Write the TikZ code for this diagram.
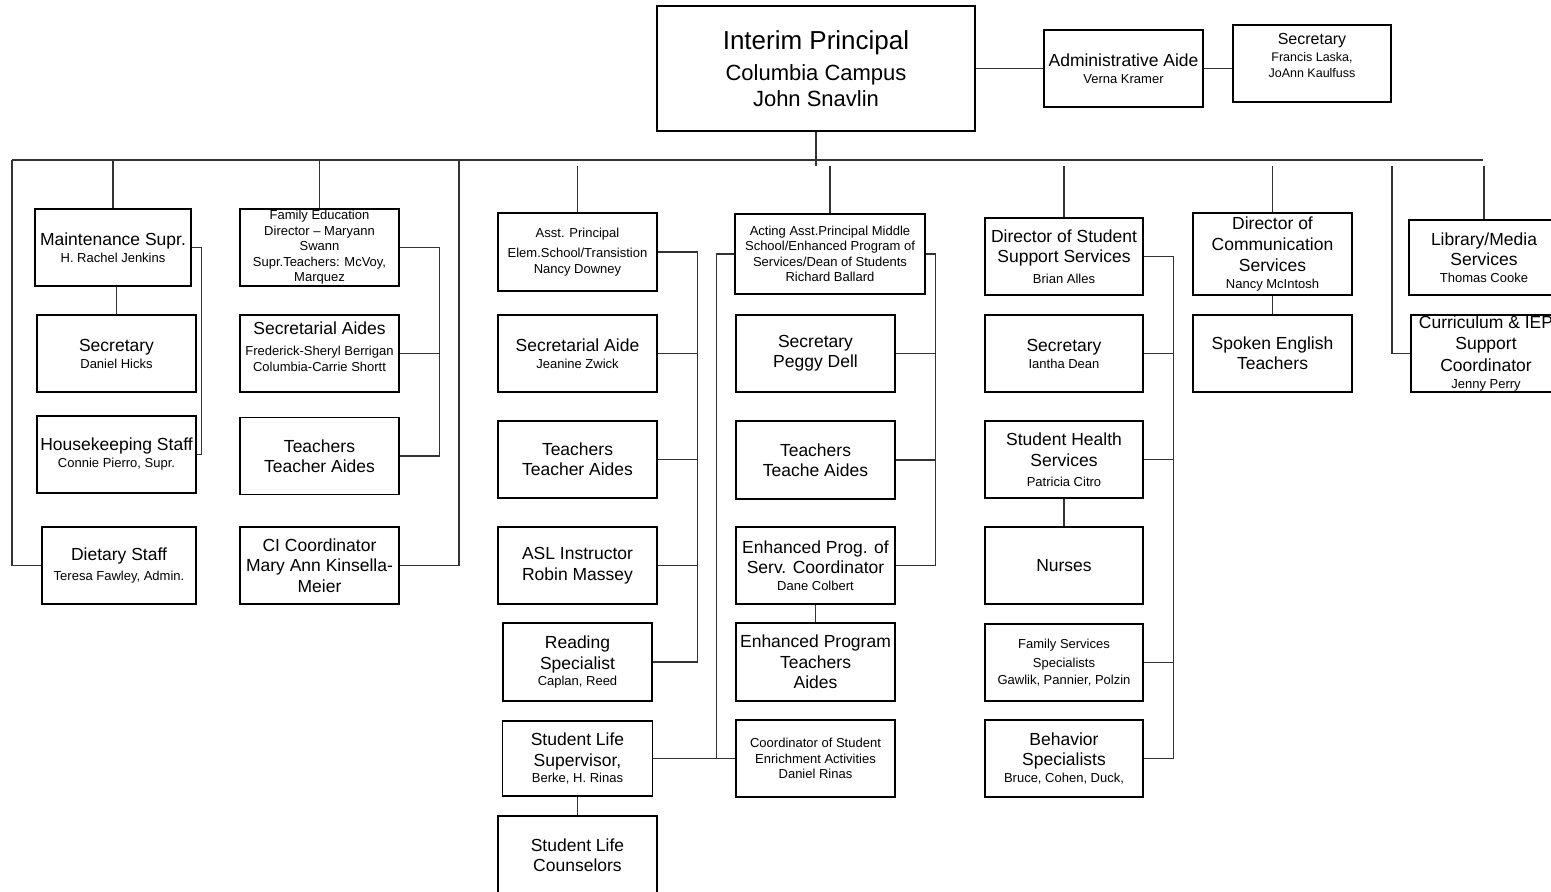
\documentclass[tikz,border=0pt]{standalone}
\usepackage{fontspec}
\setmainfont{Liberation Sans}
% text sizes used inside the boxes
\newcommand\txtL{\fontsize{17.5}{20.5}\selectfont}
\newcommand\txtS{\fontsize{13}{15.5}\selectfont}
\newcommand\txtM{\fontsize{16}{18}\selectfont}
\newcommand\txtX{\fontsize{12.5}{15}\selectfont}
\begin{document}
\begin{tikzpicture}[x=1pt,y=-1pt,
  box/.style={draw=black, line width=1.4pt, fill=white, inner sep=0pt, align=center,
              minimum width=159pt, minimum height=77pt},
  bs/.style={font=\fontsize{13}{#1}\selectfont},
  wire/.style={line width=1.1pt, draw=black!80}]
\useasboundingbox (0,0) rectangle (1551,892);
\fill[white] (0,0) rectangle (1551,892);
\clip (0,0) rectangle (1551,892);

% ---- top row ----
\node[box, minimum width=318pt, minimum height=125pt, bs=26] (prin) at (816,68.5)
  {{\fontsize{26}{26}\selectfont Interim Principal}\\[4.5pt]{\fontsize{22}{26}\selectfont Columbia Campus}\\{\fontsize{22}{26}\selectfont John Snavlin}};
\node[box, bs=17] (admin) at (1123.5,68.5) {\txtL Administrative Aide\\\txtS Verna Kramer};
\node[box, minimum width=158pt, bs=15.5, text depth=16pt] (sec0) at (1312,63.5)
  {\txtM Secretary\\[1.5pt]\txtX Francis Laska,\\\txtX JoAnn Kaulfuss};

% ---- column 1 ----
\node[box, minimum width=156pt, bs=17] (maint) at (113,247.5) {\txtL Maintenance Supr.\\\txtS H. Rachel Jenkins};
\node[box, bs=17] (sec1) at (116.5,353.5) {\txtL Secretary\\\txtS Daniel Hicks};
\node[box, bs=17] (hk) at (116.5,454.5) {\txtL Housekeeping Staff\\\txtS Connie Pierro, Supr.};
\node[box, minimum width=154pt, bs=20.5] (diet) at (119,565.5) {\txtL Dietary Staff\\\txtS Teresa Fawley, Admin.};

% ---- column 2 ----
\node[box, bs=15.5] (fam) at (319.5,247.5)
  {Family Education\\Director -- Maryann\\Swann\\Supr.Teachers: McVoy,\\Marquez};
\node[box, bs=16, text depth=14pt] (secA) at (319.5,353.5)
  {\txtL Secretarial Aides\\[4.5pt]Frederick-Sheryl Berrigan\\Columbia-Carrie Shortt};
\node[box, bs=20] (tch2) at (319.5,456) {\txtL Teachers\\\txtL Teacher Aides};
\node[box, bs=20.5] (ci) at (319.5,565.5) {\txtL CI Coordinator\\\txtL Mary Ann Kinsella-\\\txtL Meier};

% ---- column 3 ----
\node[box, minimum height=78pt, bs=16] (ap) at (577.5,252)
  {Asst. Principal\\[4pt]Elem.School/Transistion\\Nancy Downey};
\node[box, bs=17] (sa3) at (577.5,353.5) {\txtL Secretarial Aide\\\txtS Jeanine Zwick};
\node[box, bs=20] (tch3) at (577.5,459.5) {\txtL Teachers\\\txtL Teacher Aides};
\node[box, bs=21] (asl) at (577.5,565.5) {\txtL ASL Instructor\\\txtL Robin Massey};
\node[box, minimum width=149pt, minimum height=78pt, bs=16.5] (read) at (577.5,662)
  {\txtL Reading\\[4.5pt]\txtL Specialist\\\txtS Caplan, Reed};
\node[box, minimum width=150pt, minimum height=75pt, bs=15.5] (sls) at (577.5,758.5)
  {\txtL Student Life\\[5.5pt]\txtL Supervisor,\\\txtS Berke, H. Rinas};
\node[box, minimum height=79pt, bs=20] (slc) at (577.5,855.5) {\txtL Student Life\\\txtL Counselors};

% ---- column 4 ----
\node[box, minimum width=190pt, minimum height=80pt, bs=15.5] (aap) at (830,254)
  {Acting Asst.Principal Middle\\School/Enhanced Program of\\Services/Dean of Students\\Richard Ballard};
\node[box, bs=20] (pd) at (815.5,353.5) {\txtL Secretary\\\txtL Peggy Dell};
\node[box, minimum height=78pt, bs=20] (tch4) at (815.5,460) {\txtL Teachers\\\txtL Teache Aides};
\node[box, bs=16.5] (epsc) at (815.5,565.5)
  {\txtL Enhanced Prog. of\\[3.5pt]\txtL Serv. Coordinator\\\txtS Dane Colbert};
\node[box, minimum height=78pt, bs=20.5] (epta) at (815.5,662)
  {\txtL Enhanced Program\\\txtL Teachers\\\txtL Aides};
\node[box, bs=15.5] (coord) at (815.5,758.5)
  {Coordinator of Student\\Enrichment Activities\\Daniel Rinas};

% ---- column 5 ----
\node[box, minimum width=158pt, bs=20.5] (dss) at (1064,256.5)
  {\txtL Director of Student\\\txtL Support Services\\\txtS Brian Alles};
\node[box, minimum width=158pt, bs=17] (sec5) at (1064,353.5) {\txtL Secretary\\\txtS Iantha Dean};
\node[box, minimum width=158pt, bs=19.5] (shs) at (1064,459.5)
  {\txtL Student Health\\[1.5pt]\txtL Services\\\txtS Patricia Citro};
\node[box, minimum width=158pt] (nurse) at (1064,565.5) {\txtL Nurses};
\node[box, minimum width=158pt, bs=17] (fss) at (1064,662.5)
  {Family Services\\[2pt]Specialists\\Gawlik, Pannier, Polzin};
\node[box, minimum width=158pt, bs=16.5] (beh) at (1064,758.5)
  {\txtL Behavior\\[3.5pt]\txtL Specialists\\\txtS Bruce, Cohen, Duck,};

% ---- column 6 ----
\node[box, minimum height=82pt, bs=16.5] (dcs) at (1272.5,254)
  {\txtL Director of\\[4.5pt]\txtL Communication\\[4.5pt]\txtL Services\\\txtS Nancy McIntosh};
\node[box, bs=20] (spk) at (1272.5,353.5) {\txtL Spoken English\\\txtL Teachers};

% ---- column 7 ----
\node[box, minimum width=150pt, minimum height=75pt, bs=16.5] (lib) at (1484,257.5)
  {\txtL Library/Media\\[3.5pt]\txtL Services\\\txtS Thomas Cooke};
\node[box, minimum width=150pt, bs=17.5] (cur) at (1486,353.5)
  {\txtL Curriculum \& IEP\\[3.5pt]\txtL Support\\[4.5pt]\txtL Coordinator\\\txtS Jenny Perry};

% ---- connectors ----
\coordinate (busL) at (12,160);
\coordinate (busR) at (1483,160);
\coordinate (drop) at (0,166);
\coordinate (tap2) at (459,160);
\coordinate (tap7) at (1392,166);

\draw[wire] (prin.east) -- (admin.west);
\draw[wire] (admin.east) -- (sec0.west |- admin.east);
\draw[wire] (busL) -- (busR);
\draw[wire] (prin.south) -- (prin.south |- drop);

\draw[wire] (busL) |- (diet.west);
\draw[wire] (maint.north) -- (maint.north |- busL);
\draw[wire] (sec1.north) -- (sec1.north |- maint.south);
\draw[wire] (maint.east) -- ++(10,0) |- (hk.east);

\draw[wire] (fam.north) -- (fam.north |- busL);
\draw[wire] (fam.east) -- ++(40,0) |- (tch2.east);
\draw[wire] (secA.east) -- ++(40,0);
\draw[wire] (ci.east) -| (tap2);

\draw[wire] (ap.north) -- (ap.north |- drop);
\draw[wire] (ap.east) -- ++(40,0) |- (read.east);
\draw[wire] (sa3.east) -- ++(40,0);
\draw[wire] (tch3.east) -- ++(40,0);
\draw[wire] (asl.east) -- ++(40,0);
\draw[wire] (sls.south) -- (slc.north);
\draw[wire] (sls.east) -- (coord.west);
\draw[wire] (aap.west) -- ++(-18,0) |- (coord.west);

\draw[wire] (aap.north) -- (aap.north |- drop);
\draw[wire] (aap.east) -- ++(10,0) |- (epsc.east);
\draw[wire] (pd.east) -- ++(40,0);
\draw[wire] (tch4.east) -- ++(40,0);
\draw[wire] (epsc.south) -- (epta.north);

\draw[wire] (dss.north) -- (dss.north |- drop);
\draw[wire] (dss.east) -- ++(30,0) |- (beh.east);
\draw[wire] (sec5.east) -- ++(30,0);
\draw[wire] (shs.east) -- ++(30,0);
\draw[wire] (fss.east) -- ++(30,0);
\draw[wire] (shs.south) -- (nurse.north);

\draw[wire] (dcs.north) -- (dcs.north |- drop);
\draw[wire] (dcs.south) -- (spk.north);

\draw[wire] (lib.north) -- (lib.north |- drop);
\draw[wire] (cur.west) -| (tap7);
\end{tikzpicture}
\end{document}
